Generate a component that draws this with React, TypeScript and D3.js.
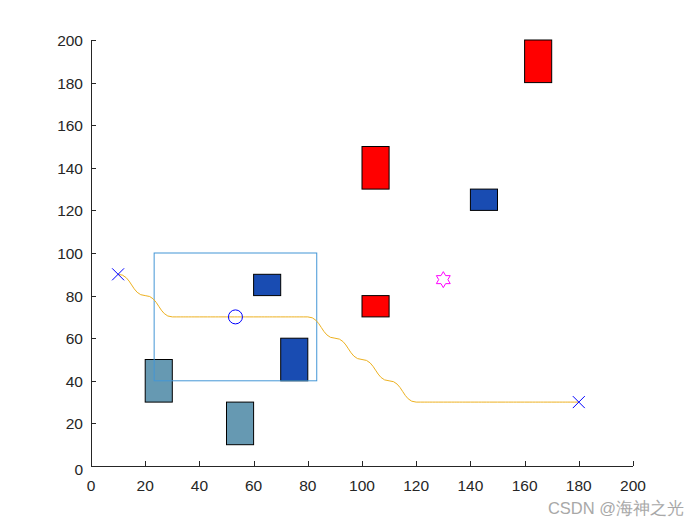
import * as d3 from 'd3';

// obstacles: [x, y, w, h] in data units
const redBlocks = [
  [160, 180, 10, 20],
  [100, 130, 10, 20],
  [100, 70, 10, 10],
];
const blueBlocks = [
  [140, 120, 10, 10],
  [60, 80, 10, 10],
  [70, 40, 10, 20],
];
const tealBlocks = [
  [20, 30, 10, 20],
  [50, 10, 10, 20],
];
// path waypoints
const pathX = [10, 20, 30, 40, 50, 60, 70, 80, 90, 100, 110, 120, 130, 140, 150, 160, 170, 180];
const pathY = [90, 80, 70, 70, 70, 70, 70, 70, 60, 50, 40, 30, 30, 30, 30, 30, 30, 30];
const startPt = [10, 90];
const goalPt = [180, 30];
const circlePt = [53.3, 70];
const windowBox = [23.3, 40, 60, 60];
const starPt = [130, 87.5];
const ticks = [0, 20, 40, 60, 80, 100, 120, 140, 160, 180, 200];

const W = 700;
const H = 525;
const m = { left: 91, right: 67, top: 40, bottom: 59 };

export default function App() {
  const x = d3.scaleLinear().domain([0, 200]).range([m.left, W - m.right]);
  const y = d3.scaleLinear().domain([0, 200]).range([H - m.bottom, m.top]);
  const axisColor = '#262626';
  const font = 'Liberation Sans, Arial, sans-serif';

  const line = d3
    .line<number>()
    .x((d, i) => x(pathX[i]))
    .y((d) => y(d))
    .curve(d3.curveBumpX);

  const rect = (b: number[], fill: string, key: string) => (
    <rect
      key={key}
      x={x(b[0])}
      y={y(b[1] + b[3])}
      width={x(b[0] + b[2]) - x(b[0])}
      height={y(b[1]) - y(b[1] + b[3])}
      fill={fill}
      stroke="#000"
      strokeWidth={1}
    />
  );

  const cross = (p: number[], key: string) => {
    const s = 6;
    const cx = x(p[0]);
    const cy = y(p[1]);
    return (
      <path
        key={key}
        d={`M${cx - s},${cy - s}L${cx + s},${cy + s}M${cx - s},${cy + s}L${cx + s},${cy - s}`}
        stroke="#0000ff"
        strokeWidth={1}
        fill="none"
      />
    );
  };

  // six-point star
  const hexagram = () => {
    const cx = x(starPt[0]);
    const cy = y(starPt[1]);
    const R = 8;
    const r = R / Math.sqrt(3);
    const pts: string[] = [];
    for (let i = 0; i < 12; i++) {
      const a = (Math.PI / 6) * i - Math.PI / 2;
      const rr = i % 2 === 0 ? R : r;
      pts.push(`${cx + rr * Math.cos(a)},${cy + rr * Math.sin(a)}`);
    }
    return <polygon points={pts.join(' ')} fill="none" stroke="#ff00ff" strokeWidth={1} />;
  };

  return (
    <svg width={W} height={H} style={{ position: 'absolute', left: 0, top: 0 }}>
      <rect width={W} height={H} fill="#fff" />

      {redBlocks.map((b, i) => rect(b, '#ff0000', 'r' + i))}
      {blueBlocks.map((b, i) => rect(b, '#194cb2', 'b' + i))}
      {tealBlocks.map((b, i) => rect(b, '#6699b2', 't' + i))}

      <rect
        x={x(windowBox[0])}
        y={y(windowBox[1] + windowBox[3])}
        width={x(windowBox[0] + windowBox[2]) - x(windowBox[0])}
        height={y(windowBox[1]) - y(windowBox[1] + windowBox[3])}
        fill="none"
        stroke="#4396d6"
        strokeWidth={1}
      />

      <path d={line(pathY) || ''} fill="none" stroke="#edb120" strokeWidth={1} />

      {cross(startPt, 's')}
      {cross(goalPt, 'g')}
      <circle cx={x(circlePt[0])} cy={y(circlePt[1])} r={7} fill="none" stroke="#0000ff" strokeWidth={1} />
      {hexagram()}

      {/* axes */}
      <g stroke={axisColor} strokeWidth={1} fill="none">
        <line x1={x(0)} x2={x(200)} y1={y(0) + 0.5} y2={y(0) + 0.5} />
        <line x1={x(0) + 0.5} x2={x(0) + 0.5} y1={y(0)} y2={y(200)} />
        {ticks.map((t) => (
          <line key={'xt' + t} x1={Math.round(x(t)) + 0.5} x2={Math.round(x(t)) + 0.5} y1={y(0)} y2={y(0) - 5} />
        ))}
        {ticks.map((t) => (
          <line key={'yt' + t} x1={x(0)} x2={x(0) + 5} y1={Math.round(y(t)) + 0.5} y2={Math.round(y(t)) + 0.5} />
        ))}
      </g>
      <g fill={axisColor} fontFamily={font} fontSize={15.5}>
        {ticks.map((t) => (
          <text key={'xl' + t} x={x(t)} y={y(0) + 25} textAnchor="middle">
            {t}
          </text>
        ))}
        {ticks.map((t) => (
          <text key={'yl' + t} x={x(0) - 8} y={y(t) + (t === 0 ? 9 : 6)} textAnchor="end">
            {t}
          </text>
        ))}
      </g>

      <text x={684} y={514} textAnchor="end" fill="#a8a8a8" fontFamily={font} fontSize={16.5}>
        CSDN @海神之光
      </text>
    </svg>
  );
}
